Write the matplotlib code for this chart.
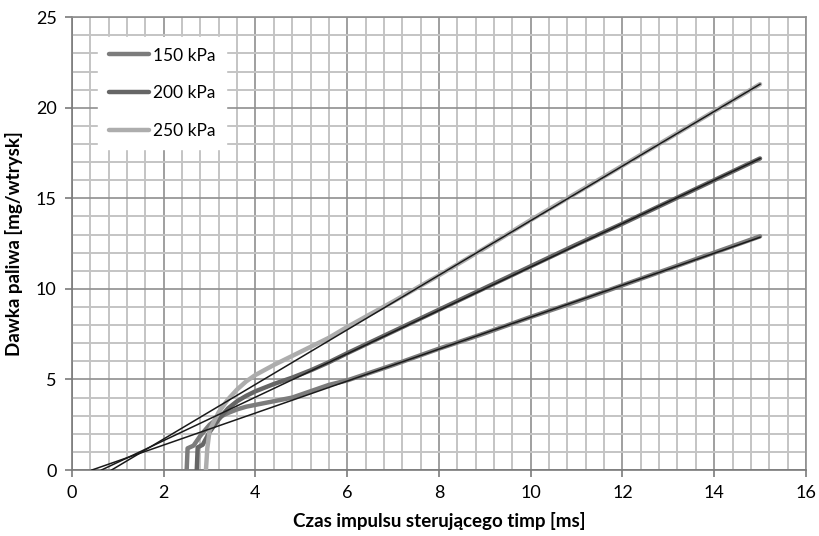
from matplotlib import pyplot as plt
from matplotlib.ticker import MultipleLocator
import numpy as np

plt.rcParams['font.family'] = ['Lato', 'DejaVu Sans']

# zmierzone dawki paliwa (x - czas impulsu [ms], y - dawka [mg/wtrysk])
x_150 = [2.5, 2.52, 2.65, 2.8, 3.0, 3.2, 3.4, 3.6, 3.8, 4.0, 4.4, 4.8, 5.2, 5.6, 6, 7, 8, 9, 10, 11, 12, 13, 14, 15]
y_150 = [0, 1.2, 1.35, 1.9, 2.5, 2.9, 3.15, 3.35, 3.5, 3.6, 3.8, 4.0, 4.35, 4.7, 4.95, 5.8, 6.7, 7.55, 8.45, 9.3, 10.2, 11.1, 12.0, 12.9]

x_200 = [2.72, 2.74, 2.85, 3.0, 3.2, 3.4, 3.6, 3.8, 4.0, 4.4, 4.8, 5.2, 5.6, 6, 7, 8, 9, 10, 11, 12, 13, 14, 15]
y_200 = [0, 1.25, 1.4, 2.1, 2.8, 3.4, 3.8, 4.1, 4.35, 4.75, 5.1, 5.5, 5.95, 6.45, 7.65, 8.85, 10.05, 11.25, 12.45, 13.6, 14.8, 16.0, 17.2]

x_250 = [2.92, 2.95, 3.0, 3.2, 3.4, 3.6, 3.8, 4.0, 4.4, 4.8, 5.2, 5.6, 6, 6.5, 7, 8, 9, 10, 11, 12, 13, 14, 15]
y_250 = [0, 1.2, 2.2, 3.2, 3.9, 4.45, 4.9, 5.25, 5.8, 6.3, 6.8, 7.3, 7.9, 8.6, 9.3, 10.75, 12.25, 13.8, 15.3, 16.8, 18.3, 19.8, 21.3]

# linie trendu (poczatek i koniec)
trend_150 = ([0.43, 15], [0, 12.85])
trend_200 = ([0.64, 15], [0, 17.2])
trend_250 = ([0.86, 15], [0, 21.3])

fig = plt.figure(figsize=(8.2, 5.36), dpi=100)
ax = fig.add_axes([0.0878, 0.123, 0.895, 0.845])

ax.plot(x_150, y_150, color='#7c7c7c', lw=3.2, label='150 kPa', solid_capstyle='round', zorder=3)
ax.plot(x_200, y_200, color='#666666', lw=3.2, label='200 kPa', solid_capstyle='round', zorder=3)
ax.plot(x_250, y_250, color='#adadad', lw=3.2, label='250 kPa', solid_capstyle='round', zorder=3)

for tx, ty in [trend_150, trend_200, trend_250]:
    ax.plot(tx, ty, color='#1a1a1a', lw=1.1, zorder=4)

ax.set_xlim(0, 16)
ax.set_ylim(0, 25)
ax.xaxis.set_major_locator(MultipleLocator(2))
ax.xaxis.set_minor_locator(MultipleLocator(0.4))
ax.yaxis.set_major_locator(MultipleLocator(5))
ax.yaxis.set_minor_locator(MultipleLocator(1))
ax.grid(which='minor', color='#c4c4c4', lw=1.4, zorder=0)
ax.grid(which='major', color='#8f8f8f', lw=1.2, zorder=1)
ax.set_axisbelow(True)

for s in ['top', 'right']:
    ax.spines[s].set_color('#8f8f8f')
    ax.spines[s].set_linewidth(1.2)
for s in ['left', 'bottom']:
    ax.spines[s].set_color('#7a7a7a')
    ax.spines[s].set_linewidth(1.2)

ax.tick_params(which='major', direction='out', length=5, width=1.2, color='#7a7a7a', labelsize=13, pad=6)
ax.tick_params(which='minor', length=0)

ax.set_xlabel('Czas impulsu sterującego timp [ms]', fontsize=13.5, fontweight='bold', labelpad=8)
ax.set_ylabel('Dawka paliwa [mg/wtrysk]', fontsize=13.5, fontweight='bold', labelpad=9)

leg = ax.legend(loc='upper left', bbox_to_anchor=(0.024, 0.975), frameon=True, fancybox=False,
                edgecolor='white', framealpha=1, fontsize=12.5, handlelength=2.3,
                labelspacing=1.25, borderpad=0.6, handletextpad=0.25)

fig.savefig('out.png', dpi=100)
